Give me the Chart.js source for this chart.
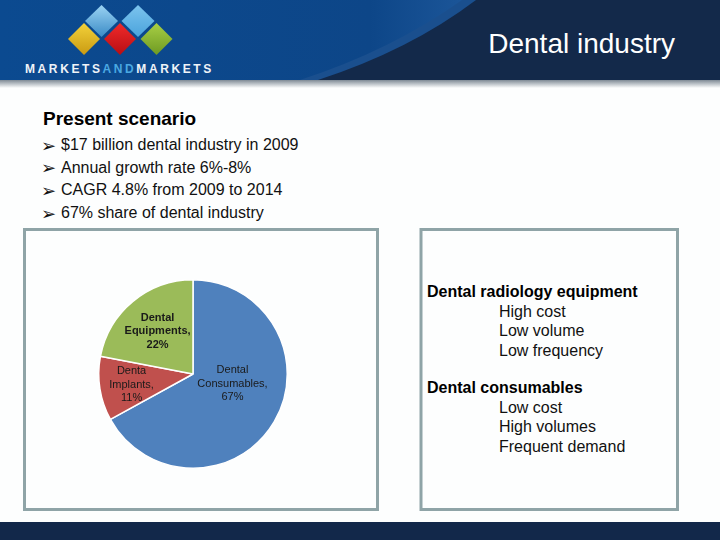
<!DOCTYPE html>
<html>
<head>
<meta charset="utf-8">
<script src="https://cdn.jsdelivr.net/npm/chart.js@4/dist/chart.umd.min.js"></script>
<style>
  html, body { margin: 0; padding: 0; background: #fdfefe; }
  #slide { position: relative; width: 720px; height: 540px; overflow: hidden; background: #fdfefe; }
  #slide svg { position: absolute; left: 0; top: 0; }
  #pieWrap { position: absolute; left: 26px; top: 231px; width: 350px; height: 278px; }
  text { font-family: "Liberation Sans", Arial, sans-serif; }
</style>
</head>
<body>
<script>
// ---- data ----
const categories = ["Dental Consumables", "Dental Implants", "Dental Equipments"];
const sliceNames = [["Dental", "Consumables,"], ["Denta", "Implants,"], ["Dental", "Equipments,"]];
const shares = [67, 11, 22];
const sliceColors = ["#4f81bd", "#c0504d", "#9bbb59"];
const bulletPoints = [
  "$17 billion dental industry in 2009",
  "Annual growth rate 6%-8%",
  "CAGR 4.8% from 2009 to 2014",
  "67% share of dental industry"
];
const radiologyPoints = ["High cost", "Low volume", "Low frequency"];
const consumablePoints = ["Low cost", "High volumes", "Frequent demand"];
</script>

<div id="slide">
<svg width="720" height="540" xmlns="http://www.w3.org/2000/svg">
  <defs>
    <linearGradient id="shadow" x1="0" y1="0" x2="0" y2="1">
      <stop offset="0" stop-color="#7f8a95"/>
      <stop offset="1" stop-color="#fdfefe"/>
    </linearGradient>
    <linearGradient id="leftBlue" x1="0" y1="0" x2="1" y2="0">
      <stop offset="0" stop-color="#0b4a90"/>
      <stop offset="0.8" stop-color="#0d4688"/>
      <stop offset="1" stop-color="#1b5598"/>
    </linearGradient>
    <linearGradient id="gBlue" x1="0" y1="0" x2="0" y2="1">
      <stop offset="0" stop-color="#9bd3f3"/>
      <stop offset="1" stop-color="#3a8bc6"/>
    </linearGradient>
    <linearGradient id="gBlue2" x1="0" y1="0" x2="0" y2="1">
      <stop offset="0" stop-color="#7cc4ee"/>
      <stop offset="1" stop-color="#4aa3dc"/>
    </linearGradient>
    <linearGradient id="gYellow" x1="0" y1="0" x2="0" y2="1">
      <stop offset="0" stop-color="#f3d23a"/>
      <stop offset="1" stop-color="#c99a12"/>
    </linearGradient>
    <linearGradient id="gRed" x1="0" y1="0" x2="0" y2="1">
      <stop offset="0" stop-color="#f02a2a"/>
      <stop offset="1" stop-color="#b80e14"/>
    </linearGradient>
    <linearGradient id="gGreen" x1="0" y1="0" x2="0" y2="1">
      <stop offset="0" stop-color="#a8cf45"/>
      <stop offset="1" stop-color="#6e9a22"/>
    </linearGradient>
  </defs>

  <!-- header -->
  <rect x="0" y="0" width="720" height="80" fill="#13294a"/>
  <path d="M0,0 H476 Q410,50 318,80 H0 Z" fill="#1a4f8e"/>
  <path d="M0,0 H462 Q392,50 300,80 H0 Z" fill="url(#leftBlue)"/>
  <rect x="0" y="80" width="720" height="8" fill="url(#shadow)"/>

  <!-- logo -->
  <polygon points="101.5,5 118,21 101.5,37 85,21" fill="url(#gBlue)"/>
  <polygon points="138,5 154.5,21 138,37 121.5,21" fill="url(#gBlue2)"/>
  <polygon points="84,23 100,39 84,55 68,39" fill="url(#gYellow)"/>
  <polygon points="120,23 136,39 120,55 104,39" fill="url(#gRed)"/>
  <polygon points="156.5,23 172.5,39 156.5,55 140.5,39" fill="url(#gGreen)"/>
  <text x="25" y="72.5" font-size="12" font-weight="bold" letter-spacing="2.6" fill="#eef3f8">MARKETS<tspan fill="#4aa8e2">AND</tspan>MARKETS</text>

  <text x="675" y="52.5" font-size="28" fill="#ffffff" text-anchor="end">Dental industry</text>

  <!-- left text -->
  <text x="43" y="125" font-size="19" font-weight="bold" fill="#000">Present scenario</text>
  <g id="bullets"></g>

  <!-- boxes -->
  <rect x="24.5" y="229.5" width="353" height="280" fill="none" stroke="#8fa4a7" stroke-width="3"/>
  <rect x="421" y="229.5" width="256.5" height="280" fill="none" stroke="#8fa4a7" stroke-width="3"/>

  <g id="rightText"></g>

  <!-- footer -->
  <rect x="0" y="522" width="720" height="18" fill="#12284a"/>
</svg>
<div id="pieWrap"><canvas id="pie" width="350" height="278"></canvas></div>
</div>

<script>
const NS = "http://www.w3.org/2000/svg";
function addText(parent, x, y, str, size, weight, fill, family) {
  const t = document.createElementNS(NS, "text");
  t.setAttribute("x", x); t.setAttribute("y", y);
  t.setAttribute("font-size", size);
  if (weight) t.setAttribute("font-weight", weight);
  if (family) t.setAttribute("style", "font-family:" + family);
  t.setAttribute("fill", fill || "#111");
  t.textContent = str;
  parent.appendChild(t);
}
const bg = document.getElementById("bullets");
bulletPoints.forEach((s, i) => {
  const y = 150 + i * 22.7;
  addText(bg, 41, y + 1.5, "➢", 18, null, "#111", "'DejaVu Sans'");
  addText(bg, 61, y, s, 16, null, "#111");
});
const rt = document.getElementById("rightText");
addText(rt, 427, 297.3, "Dental radiology equipment", 16, "bold", "#000");
radiologyPoints.forEach((s, i) => addText(rt, 499, 316.7 + i * 19.5, s, 16, null, "#111"));
addText(rt, 427, 393.3, "Dental consumables", 16, "bold", "#000");
consumablePoints.forEach((s, i) => addText(rt, 499, 412.7 + i * 19.5, s, 16, null, "#111"));

const sliceLabelPlugin = {
  id: "sliceLabels",
  afterDatasetsDraw(chart, args, opts) {
    const ctx = chart.ctx;
    const meta = chart.getDatasetMeta(0);
    meta.data.forEach((arc, i) => {
      const p = arc.getProps(["x", "y", "startAngle", "endAngle", "outerRadius"], true);
      const mid = (p.startAngle + p.endAngle) / 2;
      const r = p.outerRadius * opts.radius[i];
      const cx = p.x + Math.cos(mid) * r + opts.shift[i][0];
      const cy = p.y + Math.sin(mid) * r + opts.shift[i][1];
      const lines = [...sliceNames[i], shares[i] + "%"];
      ctx.save();
      ctx.font = opts.weights[i] + " 11px 'Liberation Sans', Arial, sans-serif";
      ctx.fillStyle = "#1a1a1a";
      ctx.textAlign = "center";
      ctx.textBaseline = "middle";
      lines.forEach((t, k) => ctx.fillText(t, cx, cy + (k - (lines.length - 1) / 2) * opts.lineHeight));
      ctx.restore();
    });
  }
};

new Chart(document.getElementById("pie"), {
  type: "pie",
  data: {
    labels: categories,
    datasets: [{
      data: shares,
      backgroundColor: sliceColors,
      borderColor: "#ffffff",
      borderWidth: 1.5
    }]
  },
  options: {
    responsive: false,
    animation: false,
    layout: { padding: { left: 72, right: 88, top: 48, bottom: 40 } },
    plugins: {
      legend: { display: false },
      tooltip: { enabled: false },
      sliceLabels: {
        radius: [0.45, 0.66, 0.59],
        shift: [[3, -12], [0, 1], [0, 0]],
        weights: ["normal", "normal", "bold"],
        lineHeight: 13.5
      }
    }
  },
  plugins: [sliceLabelPlugin]
});
</script>
</body>
</html>
